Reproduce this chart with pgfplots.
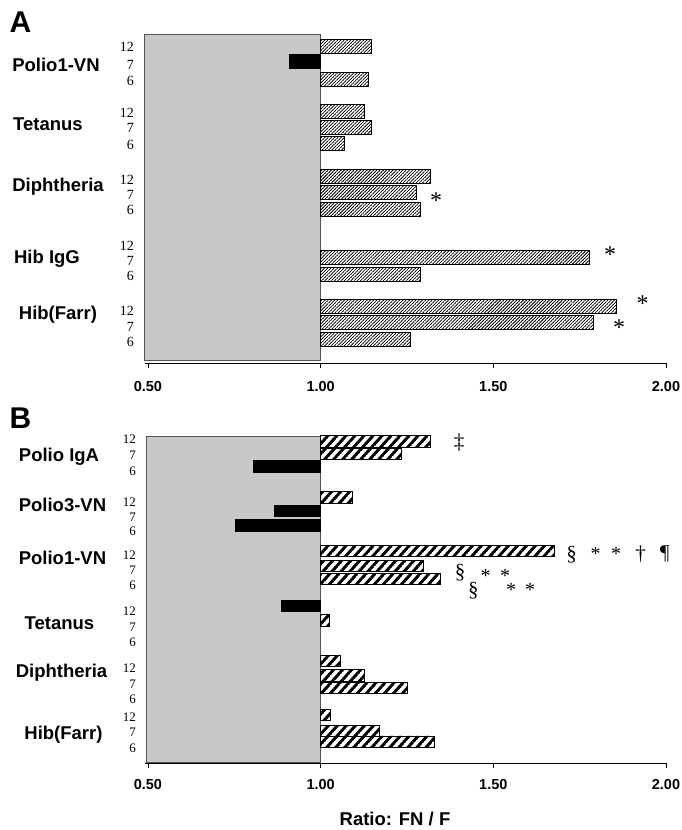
\documentclass[border=0pt]{standalone}
\usepackage{pgfplots}
\pgfplotsset{compat=1.18}
\usepackage{pgfplotstable}
\usepackage{fontspec}
\setmainfont{Liberation Sans}
\newfontfamily\tnr{Liberation Serif}
\usetikzlibrary{patterns.meta}

\tikzdeclarepattern{
  name=hatch,
  parameters={\pgfkeysvalueof{/pgf/pattern keys/size},\pgfkeysvalueof{/pgf/pattern keys/angle},\pgfkeysvalueof{/pgf/pattern keys/line width}},
  bounding box={(0,-0.5*\pgfkeysvalueof{/pgf/pattern keys/line width}) and (\pgfkeysvalueof{/pgf/pattern keys/size},0.5*\pgfkeysvalueof{/pgf/pattern keys/line width})},
  tile size={(\pgfkeysvalueof{/pgf/pattern keys/size},\pgfkeysvalueof{/pgf/pattern keys/size})},
  tile transformation={rotate=\pgfkeysvalueof{/pgf/pattern keys/angle}},
  defaults={size/.initial=5pt,angle/.initial=45,line width/.initial=.4pt},
  code={\draw[line width=\pgfkeysvalueof{/pgf/pattern keys/line width}] (0,0) -- (\pgfkeysvalueof{/pgf/pattern keys/size},0);},
}

\definecolor{boxgray}{RGB}{200,200,200}
\definecolor{boxedge}{RGB}{85,85,85}

% ratio FN/F, y = vertical position of the bar (px from top, negated)
\pgfplotstableread{
ratio y
1.147 -46
1.138 -79
1.128 -111
1.148 -127
1.068 -143
1.317 -176
1.277 -192
1.288 -209
1.777 -257
1.289 -274
1.857 -306
1.789 -322
1.259 -339
}\hatchA
\pgfplotstableread{
ratio y
0.910 -61
}\blackA
\pgfplotstableread{
ratio y
1.317 -441.3
1.235 -454
1.092 -497.5
1.678 -551
1.296 -566
1.346 -579
1.026 -620.5
1.057 -661
1.128 -675.5
1.250 -688
1.028 -715
1.169 -731
1.328 -741.7
}\hatchB
\pgfplotstableread{
ratio y
0.806 -466.5
0.867 -511
0.754 -525.5
0.886 -606
}\blackB

\pgfplotsset{
  panel/.style={
    anchor=south west, scale only axis, width=521.5pt, height=330pt,
    xmin=-0.51, xmax=1.0,
    axis x line=bottom, axis y line=left,
    x axis line style={-, line width=1pt},
    y axis line style={draw=none},
    xtick={-0.5,0,0.5,1}, xticklabels={0.50,1.00,1.50,2.00},
    xtick style={black, line width=0.8pt},
    tick align=outside, major tick length=5pt,
    ytick style={draw=none},
    yticklabels={12,7,6,12,7,6,12,7,6,12,7,6,12,7,6,12,7,6},
    clip=false,
  },
  hbar/.style={xbar, bar shift=0pt, draw=black, line width=0.7pt},
}

\begin{document}
\begin{tikzpicture}
\useasboundingbox (0,0) rectangle (681pt,-830pt);

\begin{axis}[panel, at={(144.5pt,-363pt)}, ymin=-363, ymax=-33,
  xticklabel style={font=\bfseries\fontsize{14.5}{14.5}\selectfont, anchor=base, yshift=-23pt},
  ytick={-47,-65,-81,-113,-128,-145,-180,-195,-210,-246,-261,-276,-311,-327,-342},
  yticklabel style={font=\tnr\fontsize{14}{14}\selectfont, anchor=east, xshift=-2pt},
]
\addplot[fill=boxgray, draw=boxedge, line width=0.8pt] coordinates {(-0.51,-34) (0,-34) (0,-360) (-0.51,-360)} -- cycle;
\addplot[hbar, bar width=14, pattern={hatch[size=2.3pt, line width=0.75pt, angle=45]}]
  table[x expr=\thisrow{ratio}-1, y=y] {\hatchA};
\addplot[hbar, bar width=14, fill=black]
  table[x expr=\thisrow{ratio}-1, y=y] {\blackA};
\end{axis}

\begin{axis}[panel, at={(144.5pt,-763pt)}, ymin=-763, ymax=-433,
  xticklabel style={font=\bfseries\fontsize{14.5}{14.5}\selectfont, anchor=base, yshift=-21pt},
  ytick={-439,-455,-471,-502,-517,-531,-555,-570,-585,-611,-627,-642,-668,-684,-699,-717,-732,-748},
  yticklabel style={font=\tnr\fontsize{13}{13}\selectfont, anchor=east},
]
\addplot[fill=boxgray, draw=boxedge, line width=0.8pt] coordinates {(-0.505,-436) (0,-436) (0,-762) (-0.505,-762)} -- cycle;
\addplot[hbar, bar width=11.5, pattern={hatch[size=6.7pt, line width=3pt, angle=48]}]
  table[x expr=\thisrow{ratio}-1, y=y] {\hatchB};
\addplot[hbar, bar width=11.5, fill=black]
  table[x expr=\thisrow{ratio}-1, y=y] {\blackB};
\end{axis}

\tikzset{
  grp/.style={font=\bfseries\fontsize{18.5}{18.5}\selectfont, anchor=base, yshift=-6.6pt, inner sep=0pt},
  pan/.style={font=\bfseries\fontsize{30}{30}\selectfont, anchor=base, yshift=-10.7pt, inner sep=0pt},
  ast/.style={font=\tnr\fontsize{24}{24}\selectfont, inner sep=0pt, yshift=-3.5pt},
  sym/.style={font=\tnr\fontsize{21}{21}\selectfont, inner sep=0pt},
  astb/.style={font=\tnr\fontsize{20}{20}\selectfont, inner sep=0pt, yshift=-3pt},
}
% panel letters
\node[pan] at (20.5pt,-22pt) {A};
\node[pan] at (20.5pt,-418pt) {B};
% group names, panel A
\node[grp] at (56pt,-65pt) {Polio1-VN};
\node[grp] at (48pt,-124pt) {Tetanus};
\node[grp] at (58pt,-185pt) {Diphtheria};
\node[grp] at (47pt,-257pt) {Hib IgG};
\node[grp] at (58pt,-313pt) {Hib(Farr)};
% group names, panel B
\node[grp] at (59pt,-455pt) {Polio IgA};
\node[grp] at (62.5pt,-505pt) {Polio3-VN};
\node[grp] at (62.5pt,-558pt) {Polio1-VN};
\node[grp] at (59.5pt,-623pt) {Tetanus};
\node[grp] at (61.5pt,-671pt) {Diphtheria};
\node[grp] at (63.5pt,-733pt) {Hib(Farr)};
% significance marks, panel A
\node[ast] at (436pt,-197pt) {*};
\node[ast] at (610pt,-251pt) {*};
\node[ast] at (642.7pt,-300pt) {*};
\node[ast] at (619pt,-324pt) {*};
% significance marks, panel B
\node[sym] at (459pt,-442pt) {‡};
\node[sym] at (571.7pt,-555pt) {§};
\node[astb] at (595.7pt,-550.7pt) {*};
\node[astb] at (616pt,-550.7pt) {*};
\node[sym] at (640.7pt,-554pt) {†};
\node[sym] at (665pt,-554pt) {¶};
\node[sym] at (460pt,-572.3pt) {§};
\node[astb] at (485.7pt,-573pt) {*};
\node[astb] at (505pt,-573pt) {*};
\node[sym] at (473.3pt,-590.7pt) {§};
\node[astb] at (511pt,-587pt) {*};
\node[astb] at (530pt,-587pt) {*};
% axis title
\node[grp] at (395pt,-819pt) {Ratio: FN / F};
\end{tikzpicture}
\end{document}
